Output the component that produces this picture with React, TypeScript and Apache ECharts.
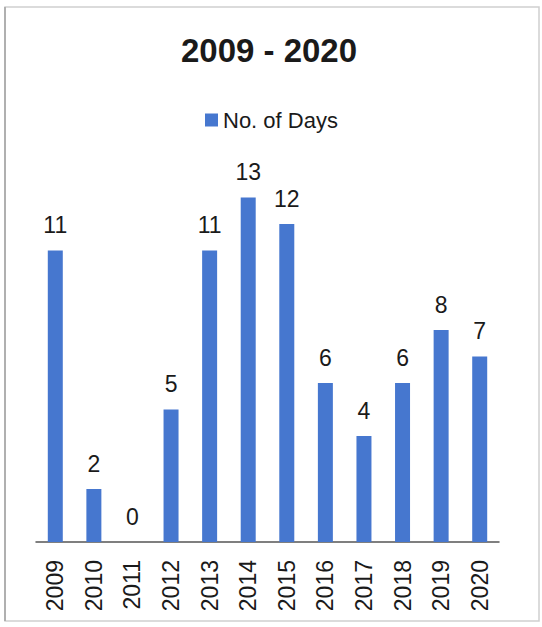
import React, { useEffect, useRef } from "react";
import * as echarts from "echarts";

const categories = ["2009", "2010", "2011", "2012", "2013", "2014", "2015", "2016", "2017", "2018", "2019", "2020"];
const days = [11, 2, 0, 5, 11, 13, 12, 6, 4, 6, 8, 7];
const seriesName = "No. of Days";
const titleText = "2009 - 2020";

export default function App() {
  const ref = useRef<HTMLDivElement>(null);
  useEffect(() => {
    document.body.style.margin = "0";
    const chart = echarts.init(ref.current!, undefined, { renderer: "svg" });
    const font = "'Liberation Sans', Arial, sans-serif";
    chart.setOption({
      animation: false,
      backgroundColor: "#ffffff",
      title: {
        text: titleText,
        left: 264,
        textAlign: "center",
        top: 29,
        textStyle: { fontFamily: font, fontSize: 33, fontWeight: "bold", color: "#1a1a1a" },
      },
      legend: {
        data: [seriesName],
        left: 200,
        top: 104,
        icon: "rect",
        itemWidth: 13,
        itemHeight: 13,
        itemGap: 6,
        textStyle: { fontFamily: font, fontSize: 22, color: "#1a1a1a" },
      },
      grid: { left: 36, right: 43, top: 171, bottom: 85, containLabel: false },
      xAxis: {
        type: "category",
        data: categories,
        axisLine: { lineStyle: { color: "#555", width: 1.5 } },
        axisTick: { show: false },
        axisLabel: { rotate: 90, margin: 18, fontFamily: font, fontSize: 23, color: "#1a1a1a", interval: 0 },
      },
      yAxis: {
        type: "value",
        min: 0,
        max: 14,
        show: false,
        splitLine: { show: false },
      },
      series: [
        {
          name: seriesName,
          type: "bar",
          data: days,
          barWidth: 15,
          itemStyle: { color: "#4677CF" },
          label: {
            show: true,
            position: "top",
            distance: 14,
            fontFamily: font,
            fontSize: 23,
            color: "#1a1a1a",
          },
        },
      ],
      graphic: [
        {
          type: "rect",
          shape: { x: 5, y: 7, width: 534, height: 614 },
          style: { fill: "none", stroke: "#d0d0d0", lineWidth: 1.5 },
        },
        {
          type: "line",
          shape: { x1: 5, y1: 7, x2: 5, y2: 621 },
          style: { stroke: "#b0b0b0", lineWidth: 2 },
        },
      ],
    });
    return () => chart.dispose();
  }, []);
  return <div ref={ref} style={{ width: 542, height: 627 }} />;
}
